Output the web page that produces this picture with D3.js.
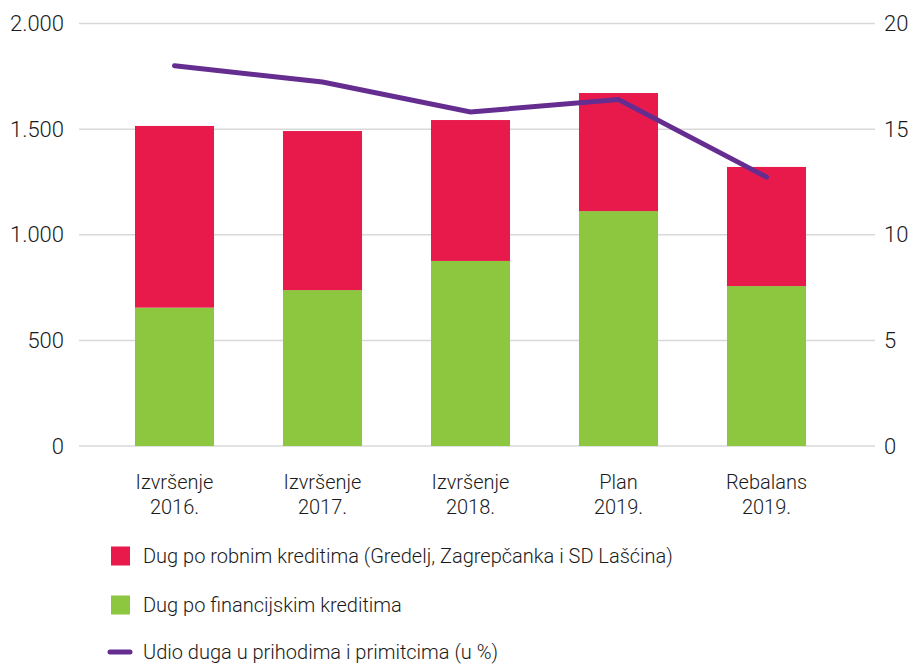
<!DOCTYPE html>
<html>
<head>
<meta charset="utf-8">
<script src="https://cdn.jsdelivr.net/npm/d3@7"></script>
<style>
  body { margin: 0; background: #fff; }
  svg text { font-family: Roboto, "Noto Sans", sans-serif; font-weight: 300; fill: #1a1a1a; }
  .grid line { stroke: #d9d9d9; stroke-width: 1.5; }
</style>
</head>
<body>
<div id="chart"></div>
<script>
// categories and series
const categories = ["Izvršenje 2016.", "Izvršenje 2017.", "Izvršenje 2018.", "Plan 2019.", "Rebalans 2019."];
const financijski = [655, 738, 876, 1112, 757];
const robni = [860, 753, 667, 559, 564];
const udio = [18.0, 17.23, 15.81, 16.4, 12.73];
const leftTicks = [0, 500, 1000, 1500, 2000];
const rightTicks = [0, 5, 10, 15, 20];
const legendLabels = [
  "Dug po robnim kreditima (Gredelj, Zagrepčanka i SD Lašćina)",
  "Dug po financijskim kreditima",
  "Udio duga u prihodima i primitcima (u %)"
];

const colors = {robni: "#e81a4b", financijski: "#8dc63f", udio: "#662d91"};

const W = 912, H = 664;
const plot = {left: 79, right: 875, top: 23.5, bottom: 446};

const svg = d3.select("#chart").append("svg")
  .attr("width", W)
  .attr("height", H);

const x = d3.scaleBand()
  .domain(categories)
  .range([100.5, 840.5])
  .paddingInner(0.466)
  .paddingOuter(0.233);

const y = d3.scaleLinear().domain([0, 2000]).range([plot.bottom, plot.top]);
const y2 = d3.scaleLinear().domain([0, 20]).range([plot.bottom, plot.top]);

const fmt = d3.formatLocale({decimal: ",", thousands: ".", grouping: [3], currency: ["", ""]}).format(",");

// gridlines
svg.append("g").attr("class", "grid")
  .selectAll("line").data(leftTicks).join("line")
  .attr("x1", plot.left).attr("x2", plot.right)
  .attr("y1", d => y(d)).attr("y2", d => y(d));

// left axis
const leftAxis = svg.append("g")
  .attr("transform", "translate(64,0)")
  .call(d3.axisLeft(y).tickValues(leftTicks).tickFormat(fmt).tickSize(0).tickPadding(0));
leftAxis.select(".domain").remove();
leftAxis.selectAll("text").style("font-size", "22px").attr("fill", "#1a1a1a");

// right axis
const rightAxis = svg.append("g")
  .attr("transform", "translate(884,0)")
  .call(d3.axisRight(y2).tickValues(rightTicks).tickSize(0).tickPadding(0));
rightAxis.select(".domain").remove();
rightAxis.selectAll("text").style("font-size", "22px").attr("fill", "#1a1a1a");

// stacked bars
const rows = categories.map((c, i) => ({cat: c, financijski: financijski[i], robni: robni[i]}));
const stack = d3.stack().keys(["financijski", "robni"])(rows);

svg.append("g").selectAll("g").data(stack).join("g")
  .attr("fill", d => colors[d.key])
  .selectAll("rect").data(d => d).join("rect")
  .attr("x", d => x(d.data.cat))
  .attr("width", x.bandwidth())
  .attr("y", d => y(d[1]))
  .attr("height", d => y(d[0]) - y(d[1]));

// line on the right scale
const line = d3.line()
  .x((d, i) => x(categories[i]) + x.bandwidth() / 2)
  .y(d => y2(d));

svg.append("path")
  .attr("d", line(udio))
  .attr("fill", "none")
  .attr("stroke", colors.udio)
  .attr("stroke-width", 5)
  .attr("stroke-linecap", "round")
  .attr("stroke-linejoin", "miter");

// category labels, two lines each
const labels = svg.append("g").selectAll("text").data(categories).join("text")
  .attr("text-anchor", "middle")
  .style("font-size", "20px")
  .attr("x", d => x(d) + x.bandwidth() / 2)
  .attr("y", 489);
labels.each(function (d) {
  const parts = d.split(" ");
  const t = d3.select(this);
  parts.forEach((p, k) => {
    t.append("tspan")
      .attr("x", x(d) + x.bandwidth() / 2)
      .attr("dy", k === 0 ? 0 : 25)
      .text(p);
  });
});

// legend
const legend = svg.append("g");
const legendY = [556, 605, 652];
const keys = ["robni", "financijski", "udio"];
keys.forEach((k, i) => {
  if (k === "udio") {
    legend.append("line")
      .attr("x1", 110).attr("x2", 130)
      .attr("y1", legendY[i]).attr("y2", legendY[i])
      .attr("stroke", colors.udio)
      .attr("stroke-width", 5)
      .attr("stroke-linecap", "round");
  } else {
    legend.append("rect")
      .attr("x", 111).attr("y", legendY[i] - 9.5)
      .attr("width", 19).attr("height", 19)
      .attr("fill", colors[k]);
  }
  legend.append("text")
    .attr("x", 143)
    .attr("y", legendY[i])
    .attr("dy", "0.35em")
    .style("font-size", "20px")
    .text(legendLabels[i]);
});
</script>
</body>
</html>
